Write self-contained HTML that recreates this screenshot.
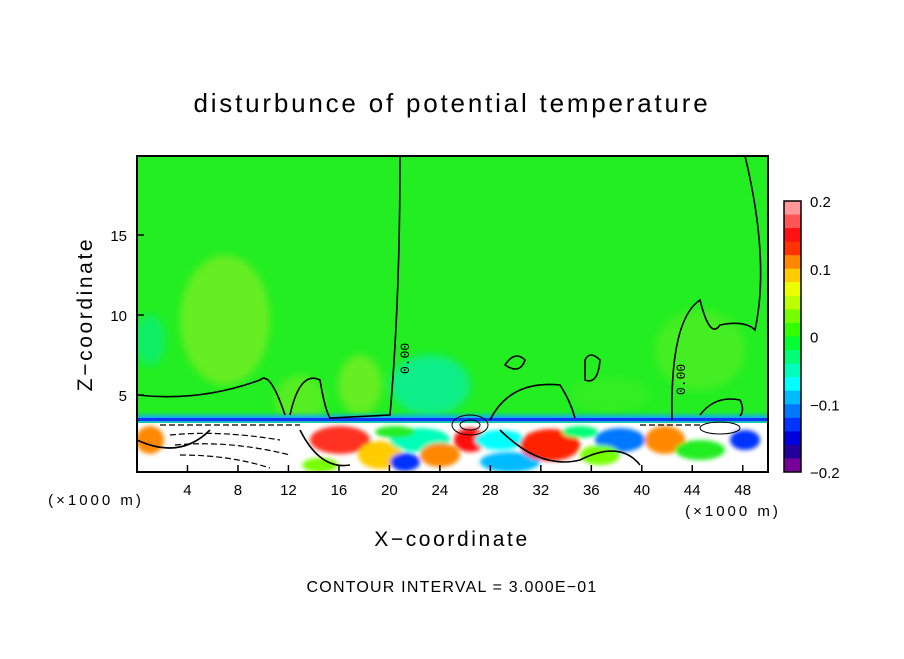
<!DOCTYPE html>
<html><head><meta charset="utf-8"><style>
body{margin:0;background:#fff;width:904px;height:654px;overflow:hidden;font-family:"Liberation Sans",sans-serif}
</style></head><body>
<svg id="s" width="904" height="654" xmlns="http://www.w3.org/2000/svg">
<defs>
<filter id="bl" x="-50%" y="-50%" width="200%" height="200%"><feGaussianBlur stdDeviation="4"/></filter>
<filter id="bl2" x="-50%" y="-50%" width="200%" height="200%"><feGaussianBlur stdDeviation="2"/></filter>
<clipPath id="cp"><rect x="137" y="156" width="631" height="316"/></clipPath>
</defs>
<text x="452" y="112" text-anchor="middle" font-size="26" letter-spacing="2.8" fill="#000">disturbunce of potential temperature</text>
<g clip-path="url(#cp)">
<rect x="137" y="156" width="631" height="316" fill="#22ee22"/>
<g filter="url(#bl)">
<ellipse cx="225" cy="320" rx="45" ry="65" fill="#66ee22"/>
<ellipse cx="300" cy="400" rx="25" ry="25" fill="#55ee22"/>
<ellipse cx="360" cy="385" rx="22" ry="30" fill="#66ee22"/>
<ellipse cx="430" cy="385" rx="40" ry="30" fill="#11ee88"/>
<ellipse cx="150" cy="340" rx="15" ry="25" fill="#11ee66"/>
<ellipse cx="700" cy="350" rx="45" ry="40" fill="#44ee22"/>
<ellipse cx="610" cy="395" rx="40" ry="18" fill="#33ee22"/>
</g>
<rect x="137" y="415" width="631" height="8" fill="#11aaff" filter="url(#bl2)"/>
<rect x="137" y="418" width="631" height="3" fill="#1133ff"/>
<rect x="137" y="423" width="631" height="49" fill="#fff"/>
<g filter="url(#bl2)">
<ellipse cx="340" cy="440" rx="30" ry="14" fill="#ff3322"/>
<ellipse cx="380" cy="455" rx="22" ry="14" fill="#ffcc00"/>
<ellipse cx="420" cy="440" rx="30" ry="12" fill="#00ffbb"/>
<ellipse cx="405" cy="462" rx="15" ry="9" fill="#0033ff"/>
<ellipse cx="440" cy="455" rx="20" ry="12" fill="#ff8800"/>
<ellipse cx="470" cy="440" rx="16" ry="12" fill="#ff1111"/>
<ellipse cx="500" cy="440" rx="25" ry="10" fill="#00ffff"/>
<ellipse cx="510" cy="462" rx="30" ry="10" fill="#00bbff"/>
<ellipse cx="550" cy="445" rx="30" ry="16" fill="#ff2200"/>
<ellipse cx="620" cy="440" rx="25" ry="12" fill="#0077ff"/>
<ellipse cx="665" cy="440" rx="20" ry="14" fill="#ff8800"/>
<ellipse cx="700" cy="450" rx="25" ry="10" fill="#22ee22"/>
<ellipse cx="745" cy="440" rx="15" ry="10" fill="#0033ff"/>
<ellipse cx="150" cy="440" rx="14" ry="14" fill="#ff8800"/>
<ellipse cx="600" cy="455" rx="20" ry="10" fill="#77ff00"/>
<ellipse cx="320" cy="465" rx="18" ry="7" fill="#77ff00"/>
<ellipse cx="395" cy="432" rx="20" ry="6" fill="#22ee22"/>
<ellipse cx="580" cy="432" rx="18" ry="6" fill="#00ff77"/>
</g>
<g fill="none" stroke="#000" stroke-width="1.6">
<path d="M137,395 Q200,402 260,380 Q270,370 285,415 M290,415 Q300,370 320,380 Q325,410 330,418 L390,415 Q400,300 400,156"/>
<path d="M490,420 Q510,380 560,385 Q570,400 575,418"/>
<path d="M505,365 Q515,350 525,360 Q520,375 505,365 Z"/>
<path d="M585,360 Q590,350 600,360 Q598,385 585,380 Z"/>
<path d="M672,420 Q670,320 700,300 Q710,340 720,325 Q745,320 755,330 Q770,260 745,156"/>
<path d="M700,415 Q715,395 740,400 Q745,410 740,416"/>
<path d="M137,440 Q180,460 210,430 M300,430 Q320,470 350,465 M500,430 Q540,470 580,460 Q620,440 640,465"/>
</g>
<g fill="none" stroke="#000" stroke-width="1.2" stroke-dasharray="6,3">
<path d="M160,425 L300,425 M170,435 Q220,430 280,440 M175,445 Q230,440 290,455 M180,455 Q230,455 270,468"/>
<path d="M640,425 L700,425"/>
</g>
<g fill="none" stroke="#000" stroke-width="1">
<ellipse cx="470" cy="425" rx="18" ry="10"/><ellipse cx="470" cy="425" rx="10" ry="5"/>
<ellipse cx="720" cy="428" rx="20" ry="6"/>
</g>
</g>
<g font-size="13" font-family="Liberation Mono,monospace">
<text x="390" y="385" transform="rotate(-90 394 370)">0.00</text>
<text x="665" y="405" transform="rotate(-90 670 390)">0.00</text>
</g>
<rect x="137" y="156" width="631" height="316" fill="none" stroke="#000" stroke-width="2"/>
<g id="ax"></g>
<g id="cb"></g>
<text x="96" y="505" font-size="15" letter-spacing="3" text-anchor="middle">(×1000 m)</text>
<text x="733" y="516" font-size="15" letter-spacing="3" text-anchor="middle">(×1000 m)</text>
<text x="452" y="546" font-size="21" letter-spacing="2.6" text-anchor="middle">X−coordinate</text>
<text x="92" y="314" font-size="21" letter-spacing="2.6" text-anchor="middle" transform="rotate(-90 92 314)">Z−coordinate</text>
<text x="452" y="592" font-size="16" letter-spacing="1.2" text-anchor="middle">CONTOUR INTERVAL = 3.000E−01</text>
</svg>
<script>
const xTicks=[4,8,12,16,20,24,28,32,36,40,44,48];
const yTicks=[5,10,15];
const cbColors=["#ff9999","#ff5555","#ff1111","#ff3300","#ff8800","#ffcc00","#eeff00","#bbff00","#77ff00","#33ff00","#00ff33","#00ff77","#00ffbb","#00ffff","#00bbff","#0077ff","#0033ff","#0000dd","#220099","#770099"];
const cbLabels=[0.2,0.1,0,-0.1,-0.2];
const NS="http://www.w3.org/2000/svg";
const X0=137,X1=768,Y0=472,Y1=156;
const xs=v=>X0+(v-0)/50*(X1-X0);
const ys=v=>475-v*16;
const ax=document.getElementById('ax'),cb=document.getElementById('cb');
function mk(t,a,p){const e=document.createElementNS(NS,t);for(const k in a)e.setAttribute(k,a[k]);p.appendChild(e);return e;}
xTicks.forEach((v,i)=>{
 const l=mk('line',{x1:xs(v),x2:xs(v),y1:Y0,y2:Y0-7,stroke:'#000','stroke-width':1.5},ax);
 
 
 const t=mk('text',{x:xs(v),y:495,'font-size':15,'text-anchor':'middle'},ax);t.textContent=v;
 
 
});
yTicks.forEach(v=>{
 const l=mk('line',{x1:X0,x2:X0+7,y1:ys(v),y2:ys(v),stroke:'#000','stroke-width':1.5},ax);
 
 
 const t=mk('text',{x:127,y:ys(v)+6,'font-size':15,'text-anchor':'end'},ax);t.textContent=v;
 
 
});
const CB0=201,CB1=472,h=(CB1-CB0)/cbColors.length;
cbColors.forEach((c,i)=>{
 const r=mk('rect',{x:784,y:CB0+i*h,width:17,height:h+0.5,fill:c},cb);
 
 
});
mk('rect',{x:784,y:CB0,width:17,height:CB1-CB0,fill:'none',stroke:'#000','stroke-width':1.5},cb);
cbLabels.forEach(v=>{
 const y=CB0+(0.2-v)/0.4*(CB1-CB0);
 const t=mk('text',{x:810,y:y+6,'font-size':15},cb);t.textContent=v<0?'−'+Math.abs(v):String(v);
 
 
});
</script>
</body></html>
